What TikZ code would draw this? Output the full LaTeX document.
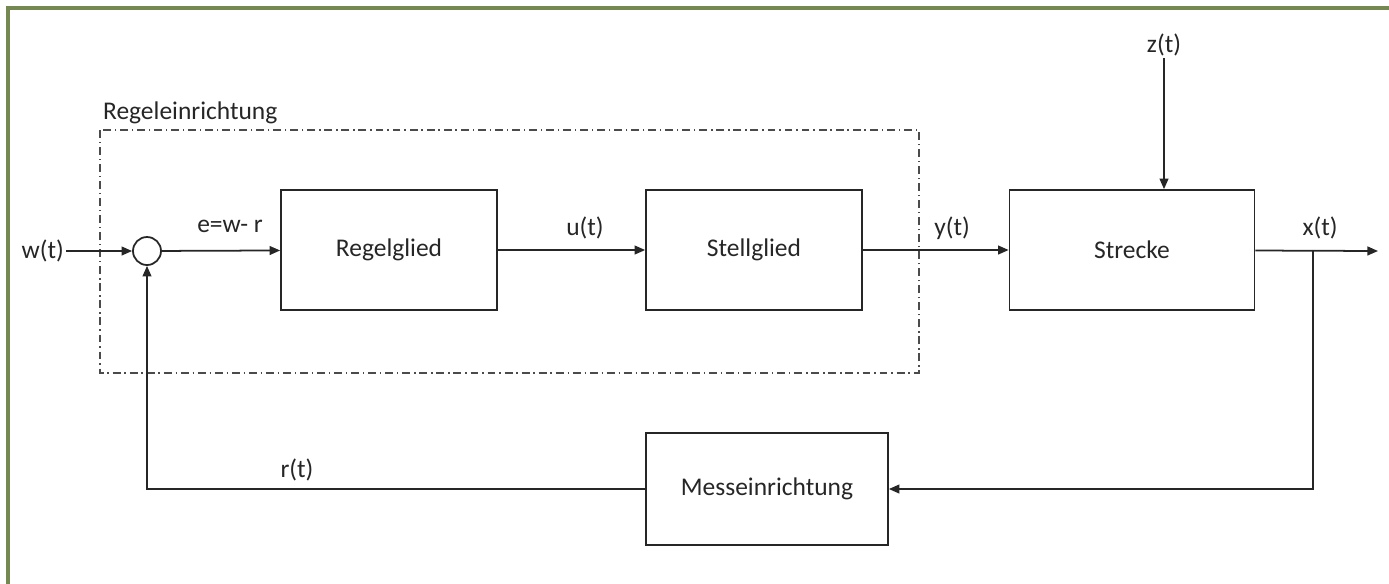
\documentclass[tikz,border=0pt]{standalone}
\usepackage{fontspec}
\setmainfont{Carlito}
\usetikzlibrary{arrows.meta,positioning}
\definecolor{rgFrame}{RGB}{118,136,82}
\definecolor{rgInk}{RGB}{38,38,38}
\definecolor{rgDash}{RGB}{75,75,75}
\newcommand{\rgfont}{\fontsize{14.5}{17}\selectfont}
\tikzset{
  block/.style={draw=rgInk,line width=1pt,minimum width=4.32cm,
    minimum height=2.4cm,font=\rgfont,text=rgInk},
  sumpoint/.style={circle,draw=rgInk,line width=1pt,minimum size=0.56cm,inner sep=0pt},
  signal/.style={font=\rgfont,text=rgInk,inner sep=1pt},
  flow/.style={draw=rgInk,line width=1pt,-{Triangle[length=6pt,width=5pt]}}
}

\begin{document}
\begin{tikzpicture}[x=0.02cm,y=-0.02cm]
  \useasboundingbox (0,0) rectangle (1389,583);
  \draw[rgFrame,line width=2pt] (8,600)--(8,8)--(1400,8);
  % Regeleinrichtung
  \draw[rgDash,line width=1pt,dash pattern=on 4.5pt off 2.2pt on 0.8pt off 2.2pt]
    (100,130) rectangle (919,373);
  \node[signal,anchor=west] (reg) at (101,113) {Regeleinrichtung};
  % blocks
  \node[block] (regler) at (389,250) {Regelglied};
  \node[block] (steller) at (754,250) {Stellglied};
  \node[block,minimum width=4.9cm] (strecke) at (1132,250) {Strecke};
  \node[block,minimum width=4.84cm,minimum height=2.24cm] (mess) at (767,489) {Messeinrichtung};
  \node[sumpoint] (sum) at (147,251) {};
  \node[signal,anchor=east] (w) at (66,251) {w(t)};
  \node[signal] (z) at (1164,45) {z(t)};
  \coordinate (out) at (1378,251);
  \coordinate (tap) at (1313,251);
  % signals
  \node[signal] (e) at (230,226) {e=w- r};
  \node[signal] (u) at (585,228) {u(t)};
  \node[signal] (y) at (952,228) {y(t)};
  \node[signal] (x) at (1320,228) {x(t)};
  \node[signal] (r) at (297,470) {r(t)};
  % connections
  \draw[flow] (w) -- (sum);
  \draw[flow] (sum) -- (regler);
  \draw[flow] (regler) -- (steller);
  \draw[flow] (steller) -- (strecke);
  \draw[flow] (z.south) -- (z.south |- strecke.north);
  \draw[flow] (strecke) -- (out);
  \draw[flow] (tap) |- (mess);
  \draw[flow] (mess) -| (sum);
\end{tikzpicture}
\end{document}
